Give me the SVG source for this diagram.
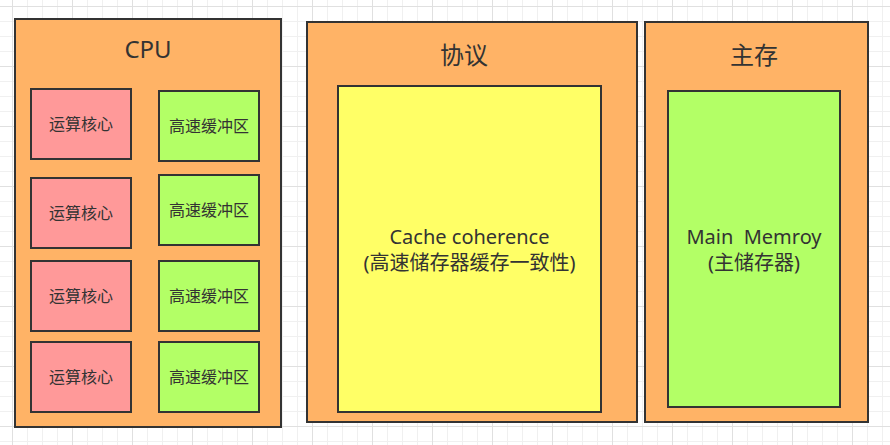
<svg xmlns="http://www.w3.org/2000/svg" width="890" height="445" viewBox="0 0 890 445">
<style>
.box{stroke:#333333;stroke-width:2}
.outer{fill:#FFB366}
.pink{fill:#FF9999}
.green{fill:#B3FF66}
.yellow{fill:#FFFF66}
text{font-family:"Noto Sans","Noto Sans CJK SC",sans-serif;fill:#333333;text-anchor:middle;white-space:pre}
.t{font-size:24px}
.s{font-size:16px}
.m{font-size:20px}
</style>
<defs>
<pattern id="minor" x="12" y="6" width="15" height="15" patternUnits="userSpaceOnUse">
<path d="M0.5 0V15M0 0.5H15" stroke="#f0f0f0" stroke-width="1" fill="none"/>
</pattern>
<pattern id="major" x="12" y="6" width="60" height="60" patternUnits="userSpaceOnUse">
<path d="M0.5 0V60M0 0.5H60" stroke="#e0e0e0" stroke-width="1" fill="none"/>
</pattern>
</defs>
<rect width="890" height="445" fill="#ffffff"/>
<rect width="890" height="445" fill="url(#minor)"/>
<rect width="890" height="445" fill="url(#major)"/>

<g id="cpu">
<rect class="box outer" x="15" y="19" width="266" height="408"/>
<text class="t" x="148" y="58">CPU</text>
</g>
<g id="core1"><rect class="box pink" x="31" y="89" width="100" height="70"/><text class="s" x="81" y="130">运算核心</text></g>
<g id="core2"><rect class="box pink" x="31" y="178" width="100" height="70"/><text class="s" x="81" y="219">运算核心</text></g>
<g id="core3"><rect class="box pink" x="31" y="261" width="100" height="70"/><text class="s" x="81" y="302">运算核心</text></g>
<g id="core4"><rect class="box pink" x="31" y="342" width="100" height="70"/><text class="s" x="81" y="383">运算核心</text></g>
<g id="cache1"><rect class="box green" x="159" y="91" width="100" height="70"/><text class="s" x="209" y="132">高速缓冲区</text></g>
<g id="cache2"><rect class="box green" x="159" y="175" width="100" height="70"/><text class="s" x="209" y="216">高速缓冲区</text></g>
<g id="cache3"><rect class="box green" x="159" y="261" width="100" height="70"/><text class="s" x="209" y="302">高速缓冲区</text></g>
<g id="cache4"><rect class="box green" x="159" y="342" width="100" height="70"/><text class="s" x="209" y="383">高速缓冲区</text></g>

<g id="protocol">
<rect class="box outer" x="307" y="22" width="330" height="400"/>
<text class="t" x="464" y="64">协议</text>
</g>
<g id="coherence">
<rect class="box yellow" x="338" y="86" width="263" height="326"/>
<text class="m" x="469.5" y="244">Cache coherence</text>
<text class="m" x="469.5" y="270">(高速储存器缓存一致性)</text>
</g>

<g id="mainmem">
<rect class="box outer" x="645" y="22" width="223" height="400"/>
<text class="t" x="754" y="64">主存</text>
</g>
<g id="memory">
<rect class="box green" x="668" y="91" width="172" height="316"/>
<text class="m" x="754" y="244">Main  Memroy</text>
<text class="m" x="754" y="270">(主储存器)</text>
</g>
<g id="connectors"/>
</svg>
